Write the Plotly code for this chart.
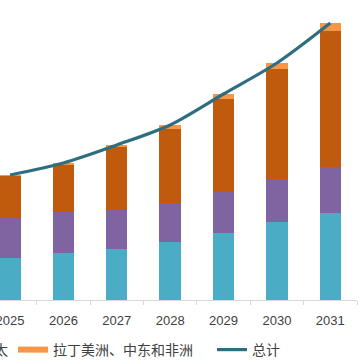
import plotly.graph_objects as go

years = ["2025", "2026", "2027", "2028", "2029", "2030", "2031"]
north_america = [4.2, 4.7, 5.1, 5.8, 6.7, 7.8, 8.7]
europe = [4.0, 4.1, 3.9, 3.9, 4.1, 4.3, 4.6]
asia_pacific = [4.2, 4.7, 6.3, 7.4, 9.3, 11.0, 13.6]
latam_mea = [0.1, 0.2, 0.2, 0.4, 0.5, 0.6, 0.8]
total = [12.5, 13.7, 15.5, 17.5, 20.6, 23.7, 27.7]

names = ["北美", "欧洲", "亚太", "拉丁美洲、中东和非洲"]
legend_names = ["亚太", "拉丁美洲、中东和非洲\u3000"]
colors = ["#4BACC6", "#8064A2", "#C05A0D", "#F79646"]
line_color = "#2E6E7E"

fig = go.Figure()
for nm, vals, c in zip(names, [north_america, europe, asia_pacific, latam_mea], colors):
    fig.add_trace(go.Bar(x=years, y=vals, name=nm, marker_color=c,
                         marker_line_width=0, showlegend=False, legendgroup=nm))

# legend entries (flat swatches like the original)
for nm, lnm, c in zip(names[2:], legend_names, colors[2:]):
    fig.add_trace(go.Scatter(x=[None], y=[None], mode="lines", name=lnm,
                             line=dict(color=c, width=6), legendgroup=nm,
                             hoverinfo="skip"))

fig.add_trace(go.Scatter(x=years, y=total, name="总计", mode="lines",
                         line=dict(color=line_color, width=3.2, shape="spline", smoothing=0.8)))

fig.update_layout(
    width=362, height=361,
    barmode="stack", bargap=0.6,
    plot_bgcolor="white", paper_bgcolor="white",
    margin=dict(l=0, r=5, t=0, b=61, autoexpand=False),
    font=dict(family="Liberation Sans, Arial, sans-serif", size=13, color="#404040"),
    xaxis=dict(type="category", range=[-0.1875, 6.5], showline=True, linecolor="#D9D9D9",
               linewidth=1, ticks="outside", ticklen=4, tickcolor="#D9D9D9",
               tickson="boundaries", showgrid=False, zeroline=False,
               ticklabelstandoff=8,
               tickfont=dict(size=13, color="#404040")),
    yaxis=dict(range=[0, 30], visible=False, showgrid=False, zeroline=False),
    legend=dict(orientation="h", x=-60/357, xanchor="left", y=-50/300, yanchor="middle",
                font=dict(family="Noto Sans CJK SC", size=14, color="#404040"),
                bgcolor="rgba(0,0,0,0)", borderwidth=0, traceorder="normal"),
    showlegend=True,
)

fig.write_html("out.html", config={"displayModeBar": False},
               post_script="document.body.style.margin='0';document.body.style.overflow='hidden';")
